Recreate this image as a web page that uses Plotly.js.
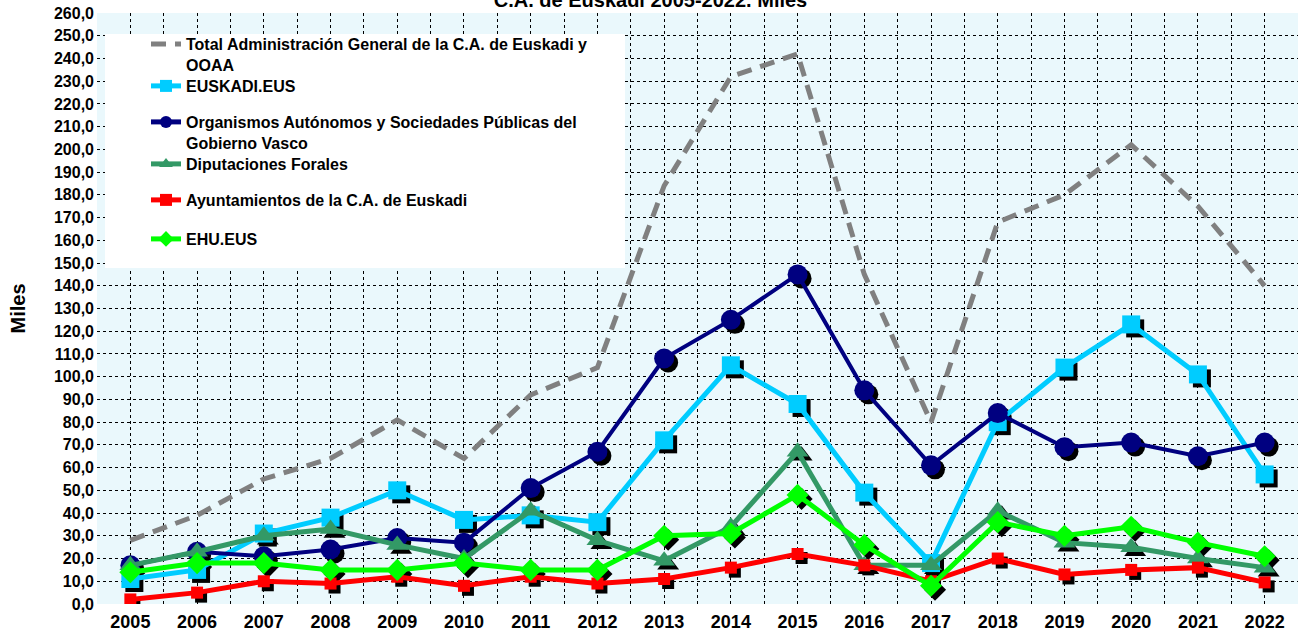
<!DOCTYPE html>
<html>
<head>
<meta charset="utf-8">
<script src="https://cdn.plot.ly/plotly-3.0.1.min.js"></script>
<style>html,body{margin:0;padding:0;background:#fff;}#chart{width:1301px;height:637px;}</style>
</head>
<body>
<div id="chart"></div>
<script>
// ---- data (thousands) ----
const years = [2005,2006,2007,2008,2009,2010,2011,2012,2013,2014,2015,2016,2017,2018,2019,2020,2021,2022];
const totalAdmin     = [28, 39, 55, 64, 81, 64, 92, 104, 184, 232, 242, 145, 80, 168, 180, 202, 175, 140];
const euskadiEus     = [11, 15, 31, 38, 50, 37, 39, 36, 72, 105, 88, 49, 18, 80, 104, 123, 101, 57];
const organismos     = [17, 23, 21, 24, 29, 27, 51, 67, 108, 125, 145, 94, 61, 84, 69, 71, 65, 71];
const diputaciones   = [17, 23, 30, 33, 26, 20, 41, 28, 19, 34, 67, 17, 17, 41, 27, 25, 20, 16];
const ayuntamientos  = [2, 5, 10, 9, 12, 8, 12, 9, 11, 16, 22, 17, 10, 20, 13, 15, 16, 9.5];
const ehuEus         = [14, 18, 18, 15, 15, 18, 15, 15, 30, 31, 48, 26, 8, 36, 30, 34, 27, 21];
const seriesNames = [
  'Total Administración General de la C.A. de Euskadi y<br>OOAA',
  'EUSKADI.EUS',
  'Organismos Autónomos y Sociedades Públicas del<br>Gobierno Vasco',
  'Diputaciones Forales',
  'Ayuntamientos de la C.A. de Euskadi',
  'EHU.EUS'
];
const titleText = 'C.A. de Euskadi 2005-2022. Miles';
const yTitle = 'Miles';

// ---- layout constants ----
const W = 1301, H = 637;
const M = {l: 97, r: 3, t: 13, b: 33};
const plotW = W - M.l - M.r, plotH = H - M.t - M.b;
const xMin = years[0] - 0.5, xMax = years[years.length - 1] + 0.5;
const yMin = 0, yMax = 260;
const shadowPx = 4;
const dx = shadowPx * (xMax - xMin) / plotW;
const dy = shadowPx * (yMax - yMin) / plotH;
const FONT = 'Liberation Sans, Arial, sans-serif';

// tick positions: category centres get labels, half-steps carry the extra grid lines
const tickVals = [], tickText = [];
years.forEach(function (yr) { tickVals.push(yr - 0.5); tickText.push(''); tickVals.push(yr); tickText.push(String(yr)); });
tickVals.push(xMax); tickText.push('');

const styles = [
  {data: totalAdmin,    color: '#808080', width: 5, dash: '15px,9px', mode: 'lines', symbol: 'circle', size: 0},
  {data: euskadiEus,    color: '#00CCFF', width: 5, dash: 'solid', mode: 'lines+markers', symbol: 'square', size: 18},
  {data: organismos,    color: '#000080', width: 4, dash: 'solid', mode: 'lines+markers', symbol: 'circle', size: 20},
  {data: diputaciones,  color: '#339966', width: 5, dash: 'solid', mode: 'lines+markers', symbol: 'triangle-up', size: 19},
  {data: ayuntamientos, color: '#FF0000', width: 5, dash: 'solid', mode: 'lines+markers', symbol: 'square', size: 12},
  {data: ehuEus,        color: '#00FF00', width: 5, dash: 'solid', mode: 'lines+markers', symbol: 'diamond', size: 17}
];

const traces = [];
// shadows (base axes, shifted ranges)
styles.forEach(function (s) {
  if (s.mode.indexOf('markers') < 0) return;
  traces.push({
    x: years, y: s.data, xaxis: 'x', yaxis: 'y', type: 'scatter', mode: 'markers',
    marker: {symbol: s.symbol, size: s.size, color: '#000000', line: {width: 0}},
    showlegend: false, hoverinfo: 'skip'
  });
});
// main series (overlay axes)
const legendTops = [27, 69, 105, 147, 183, 222]; // pixel tops of each legend entry
const legendIds = ['legend', 'legend2', 'legend3', 'legend4', 'legend5', 'legend6'];
styles.forEach(function (s, i) {
  traces.push({
    x: years, y: s.data, xaxis: 'x2', yaxis: 'y2', type: 'scatter', mode: s.mode,
    name: seriesNames[i], legend: legendIds[i],
    line: {color: s.color, width: s.width, dash: s.dash},
    marker: {symbol: s.symbol, size: s.size, color: s.color, line: {width: 0}}
  });
});

const layout = {
  width: W, height: H,
  margin: {l: M.l, r: M.r, t: M.t, b: M.b, pad: 0, autoexpand: false},
  paper_bgcolor: '#FFFFFF',
  plot_bgcolor: '#EAF8FC',
  separators: ',.',
  font: {family: FONT, size: 15, color: '#000000', weight: 'bold'},
  title: {text: titleText, x: 0.5, xanchor: 'center', y: 1, yanchor: 'bottom', yref: 'paper',
          pad: {b: 6, t: 0, l: 0, r: 0},
          font: {family: FONT, size: 20, weight: 'bold', color: '#000'}},
  xaxis: {range: [xMin - dx, xMax - dx], showgrid: false, zeroline: false, showticklabels: false, ticks: '', fixedrange: true},
  yaxis: {range: [yMin + dy, yMax + dy], showgrid: false, zeroline: false, showticklabels: false, ticks: '', fixedrange: true},
  xaxis2: {overlaying: 'x', anchor: 'y2', side: 'bottom', range: [xMin, xMax],
           tickmode: 'array', tickvals: tickVals, ticktext: tickText, ticks: '', ticklabelstandoff: 5,
           showgrid: true, gridcolor: '#000000', griddash: 'dot', gridwidth: 1, zeroline: false, showline: false,
           tickfont: {family: FONT, size: 18, weight: 'bold'}},
  yaxis2: {overlaying: 'y', anchor: 'x2', side: 'left', range: [yMin, yMax], dtick: 10, tick0: 0,
           tickformat: '.1f', ticks: '', ticklabelstandoff: 2,
           showgrid: true, gridcolor: '#000000', griddash: 'dot', gridwidth: 1,
           zeroline: false, showline: false,
           tickfont: {family: FONT, size: 16, weight: 'bold'},
           title: {text: yTitle, standoff: 22, font: {family: FONT, size: 20, weight: 'bold'}}},
  shapes: [{type: 'rect', xref: 'paper', yref: 'paper', layer: 'above',
            x0: (105 - M.l) / plotW, x1: (625 - M.l) / plotW,
            y0: 1 - (268 - M.t) / plotH, y1: 1 - (34 - M.t) / plotH,
            fillcolor: '#FFFFFF', line: {width: 0}}],
  showlegend: true
};
legendIds.forEach(function (id, i) {
  layout[id] = {
    xref: 'paper', yref: 'paper', x: (146 - M.l) / plotW, y: 1 - (legendTops[i] - M.t) / plotH,
    xanchor: 'left', yanchor: 'top', valign: 'top', itemsizing: 'constant',
    bgcolor: 'rgba(0,0,0,0)', borderwidth: 0,
    font: {family: FONT, size: 16, weight: 'bold', color: '#000'}
  };
});

Plotly.newPlot('chart', traces, layout, {displayModeBar: false, staticPlot: true});
</script>
</body>
</html>
